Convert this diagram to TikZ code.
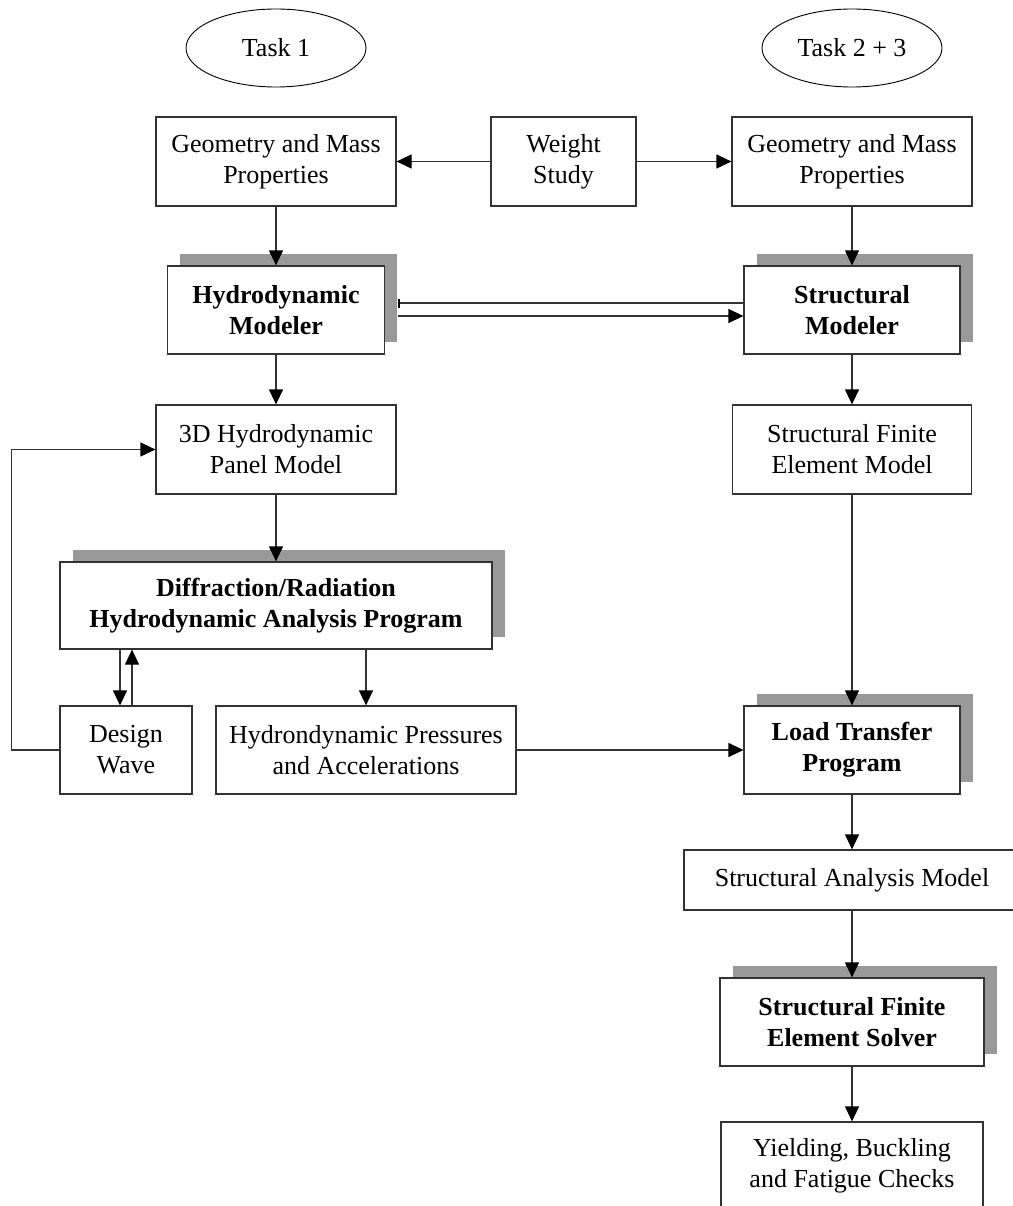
\documentclass[tikz,border=0pt]{standalone}
\usepackage{fontspec}
\setmainfont{Liberation Serif}
\usetikzlibrary{shapes,arrows.meta,positioning,calc,shadows}

\begin{document}
\begin{tikzpicture}[
    x=1pt, y=-1pt,
    every node/.style={font=\fontsize{26}{31}\selectfont},
    task-oval/.style={ellipse, draw=black, line width=0.9pt, minimum width=180pt, minimum height=78pt, inner sep=0pt},
    plain-box/.style={rectangle, draw=black!80, line width=1.2pt, fill=white, align=center, inner sep=0pt},
    tool-box/.style={plain-box, font=\fontsize{26}{31}\selectfont\bfseries, drop shadow={shadow xshift=12.5pt, shadow yshift=12.5pt, fill=black!40, opacity=1}},
    flow-arrow/.style={-{Triangle[length=15pt,width=14pt,color=black]}, draw=black!80, line width=1.2pt},
    back-line/.style={-{Bar[width=9pt,line width=2pt,color=black]}, draw=black!80, line width=1.2pt}
]
\useasboundingbox (0,0) rectangle (1012,1206);

% Tasks
\node[task-oval] (task1) at (276,48) {Task 1};
\node[task-oval] (task23) at (852,48) {Task 2 + 3};

% Input row
\node[plain-box, minimum width=240pt, minimum height=89pt] (geo1) at (276,161.5) {Geometry and Mass\\Properties};
\node[plain-box, minimum width=145pt, minimum height=89pt] (weight) at (563.5,161.5) {Weight\\Study};
\node[plain-box, minimum width=240pt, minimum height=89pt] (geo2) at (852,161.5) {Geometry and Mass\\Properties};

% Modelers
\node[tool-box, minimum width=217pt, minimum height=88pt] (hydro) at (276,310) {Hydrodynamic\\Modeler};
\node[tool-box, minimum width=216pt, minimum height=88pt] (struct) at (852,310) {Structural\\Modeler};

% Models
\node[plain-box, minimum width=240pt, minimum height=89pt] (panel) at (276,449.5) {3D Hydrodynamic\\Panel Model};
\node[plain-box, minimum width=239pt, minimum height=89pt] (fem) at (852,449.5) {Structural Finite\\Element Model};

% Hydrodynamic analysis
\node[tool-box, minimum width=432pt, minimum height=87pt] (diffr) at (276,605.5) {Diffraction/Radiation\\Hydrodynamic Analysis Program};
\node[plain-box, minimum width=132pt, minimum height=88pt] (wave) at (126,750) {Design\\Wave};
\node[plain-box, minimum width=300pt, minimum height=88pt] (press) at (366,750) {Hydrondynamic Pressures\\and Accelerations};

% Structural chain
\node[tool-box, minimum width=216pt, minimum height=88pt] (load) at (852,750) {Load Transfer\\Program};
\node[plain-box, minimum width=336pt, minimum height=60pt] (sam) at (852,880) {Structural Analysis Model};
\node[tool-box, minimum width=264pt, minimum height=88pt] (solver) at (852,1022) {Structural Finite\\Element Solver};
\node[plain-box, minimum width=262pt, minimum height=88pt] (checks) at (852,1166) {Yielding, Buckling\\and Fatigue Checks};

% Connectors
\draw[flow-arrow] (weight.west) -- (geo1.east);
\draw[flow-arrow] (weight.east) -- (geo2.west);
\draw[flow-arrow] (geo1.south) -- (hydro.north);
\draw[flow-arrow] (geo2.south) -- (struct.north);
\draw[back-line] ([yshift=7pt]struct.west) -- ([xshift=12.5pt,yshift=7pt]hydro.east);
\draw[flow-arrow] ([xshift=12.5pt,yshift=-6pt]hydro.east) -- ([yshift=-6pt]struct.west);
\draw[flow-arrow] (hydro.south) -- (panel.north);
\draw[flow-arrow] (struct.south) -- (fem.north);
\draw[flow-arrow] (panel.south) -- (diffr.north);
\draw[flow-arrow] ([xshift=-6pt]wave.north |- diffr.south) -- ([xshift=-6pt]wave.north);
\draw[flow-arrow] ([xshift=6pt]wave.north) -- ([xshift=6pt]wave.north |- diffr.south);
\draw[flow-arrow] (press.north |- diffr.south) -- (press.north);
\draw[flow-arrow] (wave.west) -- ++(-48,0) |- (panel.west);
\draw[flow-arrow] (press.east) -- (load.west);
\draw[flow-arrow] (fem.south) -- (load.north);
\draw[flow-arrow] (load.south) -- (sam.north);
\draw[flow-arrow] (sam.south) -- (solver.north);
\draw[flow-arrow] (solver.south) -- (checks.north);

\end{tikzpicture}
\end{document}
